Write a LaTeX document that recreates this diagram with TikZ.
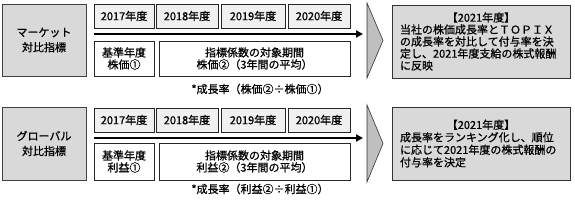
\documentclass[tikz,border=0pt]{standalone}
\usepackage{fontspec}
\setmainfont{Noto Sans CJK JP}[FakeBold=0.8]
\usetikzlibrary{arrows.meta}
\tikzset{
  fs/.style={font=\fontsize{11}{12}\selectfont},
  yr/.style={fs, draw=black!85, fill=black!6, line width=0.8pt, minimum height=24pt, inner sep=0pt},
  wbox/.style={fs, draw=black!85, fill=white, line width=0.8pt, inner sep=0pt, align=center},
  gbox/.style={font=\fontsize{11}{15}\selectfont, draw=black!75, fill=black!15, line width=0.8pt, align=center, inner sep=0pt, minimum width=84pt},
  rbox/.style={fs, draw=black!80, fill=black!15, line width=0.8pt, inner xsep=8pt, inner ysep=0pt, text width=162pt, align=left, minimum width=178pt},
  chev/.style={draw=black!80, fill=black!25, line width=0.6pt},
  tl/.style={line width=2.2pt, -{Triangle[length=7pt,width=7pt]}},
  note/.style={fs, inner sep=0pt},
}
\begin{document}
\begin{tikzpicture}[x=1pt,y=-1pt]
\useasboundingbox (0,0) rectangle (575,204);
% ---------- row 1 ----------
\node[gbox, minimum height=72pt] (m) at (44,40) {マーケット\\対比指標};
\node[yr, minimum width=60pt] (m17) at (124,16) {2017年度};
\node[yr, minimum width=62pt] (m18) at (187,16) {2018年度};
\node[yr, minimum width=64pt] (m19) at (253,16) {2019年度};
\node[yr, minimum width=62pt] (m20) at (319,16) {2020年度};
\coordinate (ms) at (94,34);
\coordinate (me) at (363,34);
\draw[tl] (ms) -- (me);
\node[wbox, minimum width=60pt, minimum height=35pt] (mk) at (124,58.5) {基準年度\\株価①};
\node[wbox, minimum width=191pt, minimum height=35pt] (mp) at (254.5,58.5) {指標係数の対象期間\\株価②（3年間の平均）};
\node[note] (mn) at (260,89) {*成長率（株価②÷株価①）};
\draw[chev] (367,3) -- (383,40.5) -- (367,78) -- cycle;
\node[rbox, minimum height=73pt] (mr) at (481,41.5) {\makebox[\linewidth]{【2021年度】}\\当社の株価成長率とＴＯＰＩＸ\\の成長率を対比して付与率を決\\定し、2021年度支給の株式報酬\\に反映};
% ---------- row 2 ----------
\node[gbox, minimum height=73pt] (g) at (44,143.5) {グローバル\\対比指標};
\node[yr, minimum width=60pt] (g17) at (124,120) {2017年度};
\node[yr, minimum width=62pt] (g18) at (187,120) {2018年度};
\node[yr, minimum width=64pt] (g19) at (253,120) {2019年度};
\node[yr, minimum width=62pt] (g20) at (319,120) {2020年度};
\coordinate (gs) at (94,138);
\coordinate (ge) at (363,138);
\draw[tl] (gs) -- (ge);
\node[wbox, minimum width=60pt, minimum height=37pt] (gk) at (124,161.5) {基準年度\\利益①};
\node[wbox, minimum width=191pt, minimum height=37pt] (gp) at (254.5,161.5) {指標係数の対象期間\\利益②（3年間の平均）};
\node[note] (gn) at (260,189) {*成長率（利益②÷利益①）};
\draw[chev] (367,105) -- (383,143.5) -- (367,182) -- cycle;
\node[rbox, minimum height=73pt, font=\fontsize{11}{12.5}\selectfont] (gr) at (481,143.5) {\makebox[\linewidth]{【2021年度】}\\成長率をランキング化し、順位\\に応じて2021年度の株式報酬の\\付与率を決定};
\end{tikzpicture}
\end{document}
